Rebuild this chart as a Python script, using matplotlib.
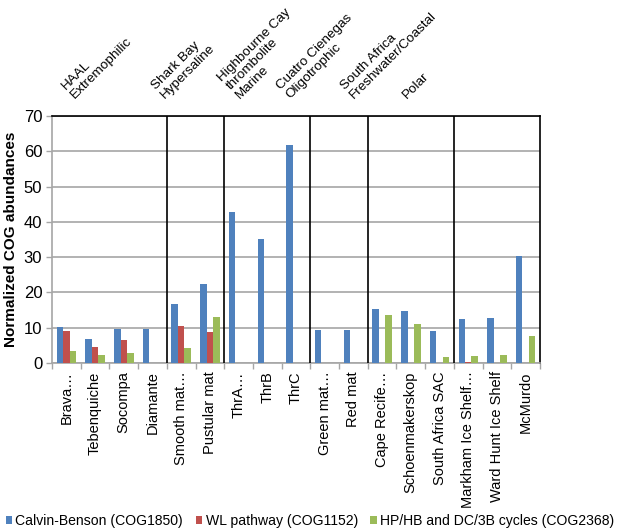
import matplotlib.pyplot as plt
import matplotlib.transforms as mtransforms
import numpy as np

plt.rcParams['font.family'] = ['Liberation Sans', 'DejaVu Sans']

# sample names (as truncated in the original chart)
samples = ['Brava\u2026', 'Tebenquiche', 'Socompa', 'Diamante',
           'Smooth mat\u2026', 'Pustular mat',
           'ThrA\u2026', 'ThrB', 'ThrC',
           'Green mat\u2026', 'Red mat',
           'Cape Recife\u2026', 'Schoenmakerskop', 'South Africa SAC',
           'Markham Ice Shelf\u2026', 'Ward Hunt Ice Shelf', 'McMurdo']

calvin = [10.3, 6.7, 9.7, 9.6, 16.7, 22.5, 42.9, 35.0, 61.8,
          9.4, 9.3, 15.2, 14.8, 9.2, 12.5, 12.8, 30.3]
wl = [9.1, 4.5, 6.6, 0, 10.5, 8.9, 0, 0, 0,
      0, 0, 0, 0, 0, 0.3, 0, 0]
hphb = [3.5, 2.4, 2.8, 0, 4.3, 12.9, 0, 0, 0,
        0, 0, 13.5, 11.0, 1.7, 2.1, 2.3, 7.7]

groups = ['HAAL\nExtremophilic', 'Shark Bay\nHypersaline',
          'Highbourne Cay\nthrombolite\nMarine', 'Cuatro Cienegas\nOligotrophic',
          'South Africa\nFreshwater/Coastal', 'Polar']
group_sizes = [4, 2, 3, 2, 3, 3]

series_names = ['Calvin-Benson (COG1850)', 'WL pathway (COG1152)',
                'HP/HB and DC/3B cycles (COG2368)']
colors = ['#4F81BD', '#C0504D', '#9BBB59']

fig = plt.figure(figsize=(6.2, 5.32), dpi=100)
ax = fig.add_axes([0.0839, 0.3177, 0.7871, 0.4643])

x = np.arange(len(samples))
w = 0.226
for i, (vals, name, c) in enumerate(zip([calvin, wl, hphb], series_names, colors)):
    ax.bar(x + (i - 1) * w, vals, w, color=c, label=name, zorder=3)

ax.set_xlim(-0.5, len(samples) - 0.5)
ax.set_ylim(0, 70)
ax.set_yticks(range(0, 71, 10))
ax.yaxis.grid(True, color='#A6A6A6', linewidth=1.2, zorder=0)
ax.tick_params(axis='y', labelsize=12, length=4, color='#A6A6A6', width=1, pad=3)

ax.set_xticks(x)
ax.set_xticklabels(samples, rotation=90, fontsize=10.5)
ax.set_xticks(np.arange(-0.5, len(samples), 1), minor=True)
ax.tick_params(axis='x', which='major', length=0, pad=6)
ax.tick_params(axis='x', which='minor', length=4, color='#A6A6A6', width=1)

ax.set_ylabel('Normalized COG abundances', fontsize=11, fontweight='bold', labelpad=4)

for s in ['left', 'bottom']:
    ax.spines[s].set_color('#A6A6A6')
    ax.spines[s].set_linewidth(1.2)
for s in ['top', 'right']:
    ax.spines[s].set_color('black')
    ax.spines[s].set_linewidth(1.2)

# group separators
edges = np.cumsum(group_sizes)[:-1] - 0.5
for e in edges:
    ax.axvline(e, color='black', linewidth=1.2, zorder=4)

# group labels above the chart
label_x = [0.37, 3.5, 6.12, 7.86, 10.09, 11.94]
trans = mtransforms.blended_transform_factory(ax.transData, ax.transAxes)
for gx, g in zip(label_x, groups):
    ax.text(gx, 1.06, g, transform=trans, rotation=45, rotation_mode='anchor',
            ha='left', va='bottom', fontsize=9.7, linespacing=1.05)

fig.legend(loc='lower center', bbox_to_anchor=(0.5, -0.008), ncol=3, frameon=False,
           fontsize=10.1, handlelength=0.45, handleheight=0.45, handletextpad=0.25,
           columnspacing=0.9, borderaxespad=0.2)

fig.savefig('out.png', dpi=100)
